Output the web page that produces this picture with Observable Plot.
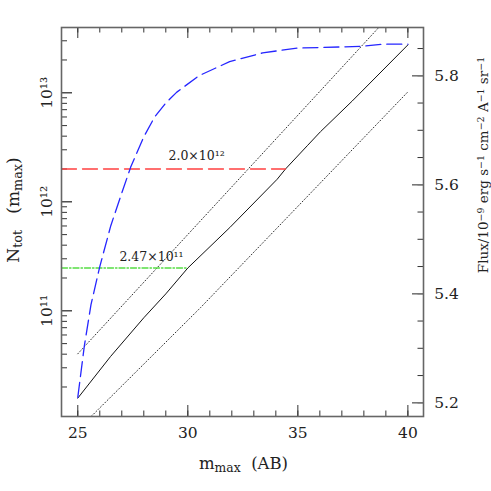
<!DOCTYPE html>
<html><head><meta charset="utf-8">
<script src="https://cdn.jsdelivr.net/npm/d3@7"></script>
<script src="https://cdn.jsdelivr.net/npm/@observablehq/plot@0.6"></script>
<style>body{margin:0;background:#fff}</style>
</head><body><div id="chart"></div>
<script>
// ---- data ----
const solidX = [25.0, 26.49, 28.0, 29.0, 30.0, 31.91, 34.06, 34.44, 35.43, 36.03, 37.47, 40.0];
const solidN = [1.58e10, 3.81e10, 8.63e10, 1.43e11, 2.47e11, 5.81e11, 1.61e12, 2.0e12, 3.27e12, 4.4e12, 8.4e12, 2.75e13];
const upperX = [25.0, 40.0];
const upperN = [4.03e10, 7.74e13];
const lowerX = [25.0, 30.58, 40.0];
const lowerN = [8.1e9, 1.07e11, 1.02e13];
const blueX = [25.0, 25.3, 25.6, 26.0, 26.5, 27.0, 27.4, 28.0, 28.5, 29.0, 29.5, 30.5, 31.9, 33.4, 35.0, 36.2, 37.9, 38.9, 40.0];
const blueFlux = [5.21, 5.305, 5.38, 5.45, 5.525, 5.585, 5.632, 5.688, 5.725, 5.75, 5.77, 5.80, 5.826, 5.842, 5.851, 5.852, 5.854, 5.858, 5.858];
const redX = [24.26, 34.44];
const redN = [2.0e12, 2.0e12];
const greenX = [24.26, 30.0];
const greenN = [2.47e11, 2.47e11];
const labelText = ["2.0×10¹²", "2.47×10¹¹"];
const labelX = [30.4, 28.35];
const labelN = [2.64e12, 3.13e11];
const xMajor = [25, 30, 35, 40];
const xMinor = d3.range(25, 41, 1);
const yMajor = [1e11, 1e12, 1e13];
const yMajorText = ["10¹¹", "10¹²", "10¹³"];
const yMinor = [2e10,3e10,4e10,5e10,6e10,7e10,8e10,9e10,2e11,3e11,4e11,5e11,6e11,7e11,8e11,9e11,2e12,3e12,4e12,5e12,6e12,7e12,8e12,9e12,2e13,3e13];
const fMajor = [5.2, 5.4, 5.6, 5.8];
const fMinor = [5.2,5.25,5.3,5.35,5.4,5.45,5.5,5.55,5.6,5.65,5.7,5.75,5.8,5.85];

// right axis (flux) maps linearly onto log10 N
const fToN = f => Math.pow(10, 5 * f - 15.844);

const W = 491, H = 491, mL = 61, mR = 68, mT = 27, mB = 75;
const fw = W - mL - mR, fh = H - mT - mB;
const font = "DejaVu Serif";

const pts = (xs, ys) => xs.map((x, i) => ({x, y: ys[i]}));
const solid = pts(solidX, solidN), upper = pts(upperX, upperN), lower = pts(lowerX, lowerN);
const blue = blueX.map((x, i) => ({x, y: fToN(blueFlux[i])}));
const red = pts(redX, redN), green = pts(greenX, greenN);
const labels = labelText.map((t, i) => ({t, x: labelX[i], y: labelN[i]}));

const tickC = "#333";
const svg = Plot.plot({
  width: W, height: H,
  marginLeft: mL, marginRight: mR, marginTop: mT, marginBottom: mB,
  style: {fontFamily: font, background: "white"},
  x: {domain: [24.26, 40.71], axis: null},
  y: {type: "log", domain: [Math.pow(10, 10.0303), Math.pow(10, 13.599)], axis: null},
  marks: [
    // tick marks (inward)
    Plot.tickX(xMinor, {x: d => d, insetTop: fh - 5.5, stroke: tickC}),
    Plot.tickX(xMinor, {x: d => d, insetBottom: fh - 5.5, stroke: tickC}),
    Plot.tickX(xMajor, {x: d => d, insetTop: fh - 11, stroke: tickC}),
    Plot.tickX(xMajor, {x: d => d, insetBottom: fh - 11, stroke: tickC}),
    Plot.tickY(yMinor, {y: d => d, insetRight: fw - 6, stroke: tickC}),
    Plot.tickY(yMajor, {y: d => d, insetRight: fw - 11, stroke: tickC, strokeWidth: 1.3}),
    Plot.tickY(fMinor, {y: d => fToN(d), insetLeft: fw - 5.5, stroke: tickC}),
    Plot.tickY(fMajor, {y: d => fToN(d), insetLeft: fw - 11, stroke: "#777", strokeWidth: 1.6}),
    // data lines
    Plot.line(lower, {x: "x", y: "y", stroke: "#333", strokeWidth: 1, strokeDasharray: "1,2.2", clip: true}),
    Plot.line(upper, {x: "x", y: "y", stroke: "#333", strokeWidth: 1, strokeDasharray: "1,2.2", clip: true}),
    Plot.line(solid, {x: "x", y: "y", stroke: "#111", strokeWidth: 1}),
    Plot.line(red, {x: "x", y: "y", stroke: "#ff4040", strokeWidth: 1.3, strokeDasharray: "15,6"}),
    Plot.line(green, {x: "x", y: "y", stroke: "#55dd44", strokeWidth: 1.3, strokeDasharray: "6,2,1.5,2"}),
    Plot.line(blue, {x: "x", y: "y", stroke: "#2626ff", strokeWidth: 1.3, strokeDasharray: "15,6", clip: true}),
    // in-plot labels
    Plot.text(labels, {x: "x", y: "y", text: "t", fontSize: 12.5, fill: "#222", lineAnchor: "middle"}),
    // tick labels
    Plot.text(xMajor, {x: d => d, frameAnchor: "bottom", dy: 17, text: d => String(d), fontSize: 15.5, fill: "#222", lineAnchor: "middle"}),
    Plot.text(yMajor, {y: d => d, frameAnchor: "left", dx: -14.5, rotate: -90, text: (d, i) => yMajorText[i], fontSize: 15.5, fill: "#222", lineAnchor: "middle", textAnchor: "middle"}),
    Plot.text(fMajor, {y: d => fToN(d), frameAnchor: "right", dx: 23, text: d => d.toFixed(1), fontSize: 15.5, fill: "#222", lineAnchor: "middle", textAnchor: "middle"}),
    Plot.frame({stroke: "#666", strokeWidth: 1.6})
  ]
});

// axis titles with sub/superscripts
const s = d3.select(svg);
function title(x, y, rot, parts, size, sc) {
  const t = s.append("text")
    .attr("transform", `translate(${x},${y}) rotate(${rot})`)
    .attr("text-anchor", "middle")
    .attr("font-family", font).attr("font-size", size).attr("fill", "#222")
    .attr("xml:space", "preserve");
  for (const [txt, kind] of parts) {
    const ts = t.append("tspan").text(txt);
    if (kind === "sub") ts.attr("font-size", size * sc).attr("baseline-shift", "-25%");
    if (kind === "sup") ts.attr("font-size", size * sc).attr("baseline-shift", "45%");
  }
}
title(243.5, 469, 0, [["m", ""], ["max", "sub"], ["  (AB)", ""]], 16.5, 0.75);
title(18.5, 210, -90, [["N", ""], ["tot", "sub"], ["   (m", ""], ["max", "sub"], [")", ""]], 17, 0.75);
title(487.5, 165, -90, [["Flux/10", ""], ["−9", "sup"], [" erg s", ""], ["−1", "sup"], [" cm", ""], ["−2", "sup"], [" A", ""], ["−1", "sup"], [" sr", ""], ["−1", "sup"]], 13.5, 0.7);

document.getElementById("chart").appendChild(svg);
</script>
</body></html>
